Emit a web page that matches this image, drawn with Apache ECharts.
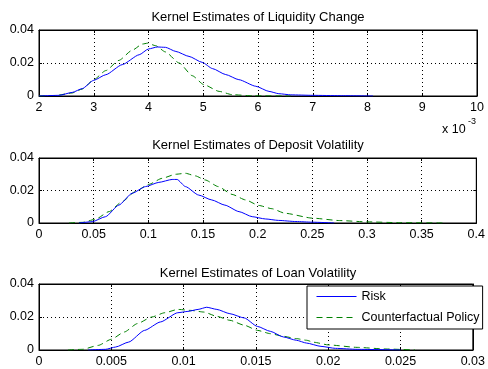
<!DOCTYPE html>
<html>
<head>
<meta charset="utf-8">
<script src="https://cdn.jsdelivr.net/npm/echarts@6/dist/echarts.min.js"></script>
<style>
  html, body { margin: 0; padding: 0; background: #fff; }
  #chart { width: 488px; height: 369px; }
</style>
</head>
<body>
<div id="chart"></div>
<script>
// Kernel density estimates, Risk vs Counterfactual Policy.
// Panel 1 x-values are in units of 1e-3.
const titles = [
  'Kernel Estimates of Liquidity Change',
  'Kernel Estimates of Deposit Volatility',
  'Kernel Estimates of Loan Volatility'
];
const seriesNames = ['Risk', 'Counterfactual Policy'];

const liquidityRisk = [
  [2.0, 0], [2.37, 0.0004], [2.61, 0.0022], [2.79, 0.0045], [3.0, 0.0095], [3.22, 0.0129],
  [3.52, 0.019], [3.83, 0.025], [4.0, 0.0285], [4.16, 0.0297], [4.31, 0.0295], [4.5, 0.027],
  [4.74, 0.024], [4.98, 0.0204], [5.17, 0.0166], [5.41, 0.013], [5.65, 0.0099], [5.96, 0.0059],
  [6.2, 0.0028], [6.38, 0.0014], [6.6, 0.0007], [7.0, 0.0004], [7.5, 0.0002], [8.1, 0]
];
const liquidityCf = [
  [2.0, 0], [2.3, 0.0003], [2.6, 0.0018], [2.79, 0.0042], [3.0, 0.0099], [3.22, 0.0154],
  [3.46, 0.0216], [3.7, 0.0277], [3.89, 0.0315], [3.98, 0.032], [4.13, 0.0305], [4.31, 0.0267],
  [4.56, 0.020], [4.8, 0.0123], [5.01, 0.0069], [5.29, 0.0028], [5.53, 0.0008], [5.9, 0.0001],
  [6.6, 0]
];
const depositRisk = [
  [0.0365, 0], [0.0487, 0.0008], [0.0609, 0.0039], [0.073, 0.011], [0.0852, 0.0183],
  [0.0974, 0.0224], [0.1096, 0.025], [0.1218, 0.0268], [0.1263, 0.0268], [0.134, 0.0224],
  [0.146, 0.0172], [0.158, 0.0142], [0.170, 0.011], [0.183, 0.007], [0.195, 0.0039],
  [0.207, 0.0025], [0.219, 0.0016], [0.235, 0.0009], [0.25, 0.0005], [0.27, 0]
];
const depositCf = [
  [0.0274, 0], [0.04, 0.0004], [0.0517, 0.0023], [0.064, 0.007], [0.076, 0.0131], [0.088, 0.0193],
  [0.1005, 0.0238], [0.1126, 0.0275], [0.125, 0.030], [0.134, 0.0306], [0.143, 0.029],
  [0.152, 0.0265], [0.164, 0.0224], [0.1766, 0.0176], [0.189, 0.0142], [0.201, 0.0108],
  [0.213, 0.0088], [0.225, 0.006], [0.25, 0.003], [0.275, 0.0015], [0.30, 0.0007],
  [0.33, 0.0002], [0.37, 0]
];
const loanRisk = [
  [0.0034, 0], [0.0046, 0.0004], [0.0053, 0.0018], [0.0062, 0.0048], [0.0073, 0.0119],
  [0.0084, 0.017], [0.0096, 0.0226], [0.0103, 0.0234], [0.011, 0.0246], [0.0116, 0.0259],
  [0.0123, 0.0246], [0.0132, 0.022], [0.0142, 0.0194], [0.0151, 0.0143], [0.016, 0.0113],
  [0.0169, 0.0079], [0.0178, 0.0059], [0.0185, 0.0042], [0.0195, 0.0022], [0.0205, 0.001],
  [0.022, 0.0004], [0.025, 0]
];
const loanCf = [
  [0.002, 0], [0.003, 0.0004], [0.0041, 0.0028], [0.005, 0.0065], [0.0059, 0.0109],
  [0.0068, 0.016], [0.0078, 0.020], [0.0087, 0.0226], [0.0096, 0.0246], [0.0105, 0.024],
  [0.0114, 0.023], [0.0123, 0.0204], [0.0132, 0.018], [0.0142, 0.015], [0.0151, 0.0119],
  [0.016, 0.0099], [0.0169, 0.0083], [0.0178, 0.0069], [0.0185, 0.0059], [0.019, 0.0047],
  [0.020, 0.0031], [0.022, 0.0016], [0.024, 0.0006], [0.026, 0]
];

const xMin = [2, 0, 0];
const xMax = [10, 0.4, 0.03];
const xStep = [1, 0.05, 0.005];
const yTicks = [0, 0.02, 0.04];

const panels = [[liquidityRisk, liquidityCf], [depositRisk, depositCf], [loanRisk, loanCf]];
const gridTops = [30, 158, 284];
const gridHeights = [66, 65, 66];
const titleTops = [10.5, 138.5, 266.5];

const FONT = 'Liberation Sans';
const fmt = v => String(+v.toFixed(4));

const grids = [], xAxes = [], yAxes = [], series = [], titleOpts = [];
gridTops.forEach((top, i) => {
  grids.push({ left: 39, right: 11, top: top, height: gridHeights[i],
    show: true, borderColor: '#000', borderWidth: 1, backgroundColor: '#fff' });
  titleOpts.push({ text: titles[i], left: 258, top: titleTops[i], textAlign: 'center', padding: 0,
    textStyle: { fontFamily: FONT, fontSize: 13, fontWeight: 'normal', color: '#000' } });
  const common = {
    gridIndex: i, type: 'value',
    axisLine: { show: true, onZero: false, lineStyle: { color: '#000', width: 1 } },
    axisTick: { show: true, inside: true, length: 3, lineStyle: { color: '#000' } },
  };
  xAxes.push(Object.assign({}, common, {
    position: 'bottom', min: xMin[i], max: xMax[i], interval: xStep[i],
    axisLabel: { fontFamily: FONT, fontSize: 12.5, color: '#000', margin: 5, formatter: fmt },
    splitLine: { show: true, lineStyle: { color: '#000', type: [1, 3], width: 1 } }
  }));
  xAxes.push(Object.assign({}, common, {
    position: 'top', min: xMin[i], max: xMax[i], interval: xStep[i],
    axisLabel: { show: false }, splitLine: { show: false }
  }));
  yAxes.push(Object.assign({}, common, {
    position: 'left', min: yTicks[0], max: yTicks[yTicks.length - 1], interval: yTicks[1] - yTicks[0],
    axisLabel: { fontFamily: FONT, fontSize: 12.5, color: '#000', margin: 5, formatter: fmt },
    splitLine: { show: true, lineStyle: { color: '#000', type: [1, 3], width: 1 } }
  }));
  yAxes.push(Object.assign({}, common, {
    position: 'right', min: yTicks[0], max: yTicks[yTicks.length - 1], interval: yTicks[1] - yTicks[0],
    axisLabel: { show: false }, splitLine: { show: false }
  }));
  const [risk, cf] = panels[i];
  series.push({
    name: seriesNames[0], type: 'line', xAxisIndex: 2 * i, yAxisIndex: 2 * i,
    data: risk, showSymbol: false, symbol: 'none', smooth: 0.2, smoothMonotone: 'x',
    lineStyle: { color: '#0000ff', width: 1 }, itemStyle: { color: '#0000ff' },
    z: 3, silent: true
  });
  series.push({
    name: seriesNames[1], type: 'line', xAxisIndex: 2 * i, yAxisIndex: 2 * i,
    data: cf, showSymbol: false, symbol: 'none', smooth: 0.2, smoothMonotone: 'x',
    lineStyle: { color: '#008000', width: 1, type: [6, 4] }, itemStyle: { color: '#008000' },
    z: 2, silent: true
  });
});

const chart = echarts.init(document.getElementById('chart'), null, { renderer: 'canvas' });
chart.setOption({
  animation: false,
  backgroundColor: '#fff',
  title: titleOpts,
  grid: grids,
  xAxis: xAxes,
  yAxis: yAxes,
  series: series,
  legend: {
    data: seriesNames,
    orient: 'vertical', left: 307, top: 286,
    itemWidth: 40, itemHeight: 14, itemGap: 8,
    padding: [4, 3, 5, 9],
    backgroundColor: '#fff', borderColor: '#000', borderWidth: 1,
    itemStyle: { color: 'rgba(0,0,0,0)', borderWidth: 0, opacity: 0 },
    lineStyle: { width: 1 },
    textStyle: { fontFamily: FONT, fontSize: 12.5, color: '#000' },
    z: 10
  },
  graphic: [
    { type: 'text', left: 442, top: 123,
      style: { text: 'x 10', font: '12.5px "Liberation Sans"', fill: '#000' } },
    { type: 'text', left: 468, top: 117,
      style: { text: '-3', font: '9px "Liberation Sans"', fill: '#000' } }
  ]
});
</script>
</body>
</html>
